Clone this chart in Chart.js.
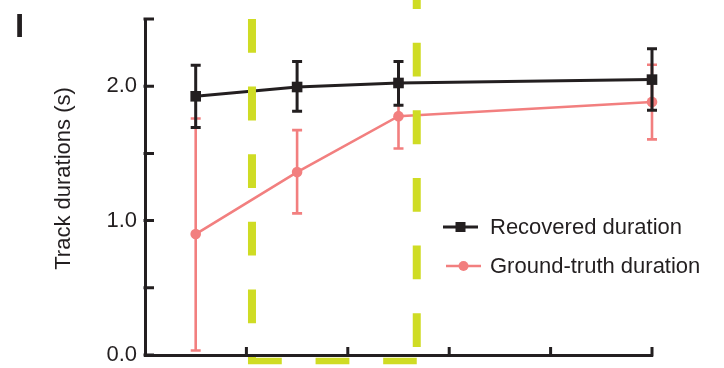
<!DOCTYPE html>
<html>
<head>
<meta charset="utf-8">
<script src="https://cdn.jsdelivr.net/npm/chart.js@4.4.1/dist/chart.umd.min.js"></script>
<style>
  html, body { margin: 0; padding: 0; background: #ffffff; }
  #wrap { width: 724px; height: 368px; }
</style>
</head>
<body>
<div id="wrap"><canvas id="chart" width="724" height="368"></canvas></div>
<script>
// Measured track durations at each condition (mean with lower/upper error bounds)
const positions      = [0.5, 1.5, 2.5, 5];
const recoveredMean  = [1.925, 1.994, 2.024, 2.049];
const recoveredLow   = [1.693, 1.814, 1.858, 1.821];
const recoveredHigh  = [2.155, 2.183, 2.183, 2.279];
const truthMean      = [0.900, 1.361, 1.777, 1.883];
const truthLow       = [0.034, 1.054, 1.537, 1.604];
const truthHigh      = [1.760, 1.673, 2.017, 2.160];

const seriesNames  = ['Recovered duration', 'Ground-truth duration'];
const yTickValues  = [0, 0.5, 1, 1.5, 2, 2.5];
const yTickLabels  = ['0.0', '', '1.0', '', '2.0', ''];
const xTickValues  = [1, 2, 3, 4, 5];
const windowEdges  = [1.055, 2.68];   // dashed window bounds on the x scale
const axisTitle    = 'Track durations (s)';
const panelLetter  = 'I';

const INK   = '#231f20';
const CORAL = '#f27f7f';
const LIME  = '#cfdc24';
const FONT  = '"Liberation Sans", Arial, Helvetica, sans-serif';

const errorBounds = [
  { low: recoveredLow, high: recoveredHigh, color: INK,   width: 3 },
  { low: truthLow,     high: truthHigh,     color: CORAL, width: 2.6 }
];

// Error bars, inward tick marks, dashed window, legend and labels
const decor = {
  id: 'decor',
  beforeDatasetDraw(chart, args) {
    const { ctx, scales: { x, y } } = chart;
    const eb = errorBounds[args.index];
    ctx.save();
    ctx.strokeStyle = eb.color;
    ctx.lineWidth = eb.width;
    ctx.lineCap = 'butt';
    positions.forEach((p, i) => {
      const px = x.getPixelForValue(p);
      const lo = y.getPixelForValue(eb.low[i]);
      const hi = y.getPixelForValue(eb.high[i]);
      ctx.beginPath();
      ctx.moveTo(px, lo); ctx.lineTo(px, hi);
      ctx.moveTo(px - 5, lo); ctx.lineTo(px + 5, lo);
      ctx.moveTo(px - 5, hi); ctx.lineTo(px + 5, hi);
      ctx.stroke();
    });
    ctx.restore();
  },
  afterDatasetsDraw(chart) {
    const { ctx, chartArea: area, scales: { x, y } } = chart;
    ctx.save();

    // inward tick marks
    ctx.strokeStyle = INK;
    ctx.lineWidth = 3;
    ctx.lineCap = 'butt';
    ctx.beginPath();
    yTickValues.forEach(v => {
      const py = y.getPixelForValue(v);
      ctx.moveTo(area.left - 1.5, py); ctx.lineTo(area.left + 9, py);
    });
    xTickValues.forEach(v => {
      const px = x.getPixelForValue(v);
      ctx.moveTo(px, area.bottom + 1.5); ctx.lineTo(px, area.bottom - 8);
    });
    ctx.stroke();

    // dashed window
    const gx0 = x.getPixelForValue(windowEdges[0]);
    const gx1 = x.getPixelForValue(windowEdges[1]);
    const topY = y.getPixelForValue(2.5);
    const baseY = y.getPixelForValue(-0.045);
    ctx.strokeStyle = LIME;
    ctx.setLineDash([33.8, 33.8]);
    ctx.lineWidth = 8;
    ctx.beginPath(); ctx.moveTo(gx0, topY); ctx.lineTo(gx0, baseY); ctx.stroke();
    ctx.beginPath(); ctx.moveTo(gx1, y.getPixelForValue(0.06)); ctx.lineTo(gx1, 0); ctx.stroke();
    ctx.lineWidth = 6.5;
    ctx.beginPath(); ctx.moveTo(gx0 - 4, baseY); ctx.lineTo(gx1, baseY); ctx.stroke();
    ctx.setLineDash([]);

    // legend
    const rows = [227, 266];
    chart.data.datasets.forEach((ds, i) => {
      const cy = rows[i];
      const x0 = i === 0 ? 443 : 446;
      const x1 = x0 + 35;
      const mx = (x0 + x1) / 2;
      ctx.strokeStyle = ds.borderColor;
      ctx.lineWidth = ds.borderWidth;
      ctx.beginPath(); ctx.moveTo(x0, cy); ctx.lineTo(x1, cy); ctx.stroke();
      ctx.fillStyle = ds.borderColor;
      if (ds.pointStyle === 'rect') {
        ctx.fillRect(mx - 5, cy - 5, 10, 10);
      } else {
        ctx.beginPath(); ctx.arc(mx, cy, 5, 0, Math.PI * 2); ctx.fill();
      }
      ctx.fillStyle = INK;
      ctx.font = '22px ' + FONT;
      ctx.textAlign = 'left';
      ctx.textBaseline = 'middle';
      ctx.fillText(ds.label, 490, cy + 1);
    });

    // y axis title
    ctx.save();
    ctx.translate(64, 178.5);
    ctx.rotate(-Math.PI / 2);
    ctx.fillStyle = INK;
    ctx.font = '22px ' + FONT;
    ctx.textAlign = 'center';
    ctx.textBaseline = 'middle';
    ctx.fillText(axisTitle, 0, 0);
    ctx.restore();

    // panel letter
    ctx.fillStyle = INK;
    ctx.font = 'bold 33px ' + FONT;
    ctx.textAlign = 'left';
    ctx.textBaseline = 'alphabetic';
    ctx.fillText(panelLetter, 15, 36.7);

    ctx.restore();
  }
};

const toPoints = vals => positions.map((p, i) => ({ x: p, y: vals[i] }));

new Chart(document.getElementById('chart'), {
  type: 'line',
  data: {
    datasets: [
      {
        label: seriesNames[0],
        data: toPoints(recoveredMean),
        borderColor: INK,
        backgroundColor: INK,
        borderWidth: 3,
        pointStyle: 'rect',
        pointRadius: 7.5,
        pointBorderWidth: 0,
        pointBackgroundColor: INK,
        clip: false
      },
      {
        label: seriesNames[1],
        data: toPoints(truthMean),
        borderColor: CORAL,
        backgroundColor: CORAL,
        borderWidth: 2.6,
        pointStyle: 'circle',
        pointRadius: 5.3,
        pointBorderWidth: 0,
        pointBackgroundColor: CORAL,
        clip: false
      }
    ]
  },
  options: {
    responsive: false,
    animation: false,
    devicePixelRatio: 1,
    layout: { padding: { top: 19, right: 72, left: 0, bottom: 0 } },
    plugins: { legend: { display: false }, tooltip: { enabled: false } },
    elements: { line: { tension: 0 } },
    scales: {
      x: {
        type: 'linear',
        min: 0,
        max: 5,
        grid: { display: false, drawTicks: false },
        border: { display: true, color: INK, width: 3 },
        ticks: { display: false, stepSize: 1 },
        afterFit(scale) {
          scale.height = 13;
          scale.paddingLeft = 0; scale.paddingRight = 0;
        }
      },
      y: {
        type: 'linear',
        min: 0,
        max: 2.5,
        grid: { display: false, drawTicks: false },
        border: { display: true, color: INK, width: 3 },
        ticks: {
          stepSize: 0.5,
          padding: 8,
          color: INK,
          font: { family: FONT, size: 22 },
          callback: v => {
            const k = yTickValues.findIndex(t => Math.abs(t - v) < 1e-9);
            return k >= 0 ? yTickLabels[k] : '';
          }
        },
        afterFit(scale) {
          scale.width = 145;
          scale.paddingTop = 0; scale.paddingBottom = 0;
        }
      }
    }
  },
  plugins: [decor]
});
</script>
</body>
</html>
